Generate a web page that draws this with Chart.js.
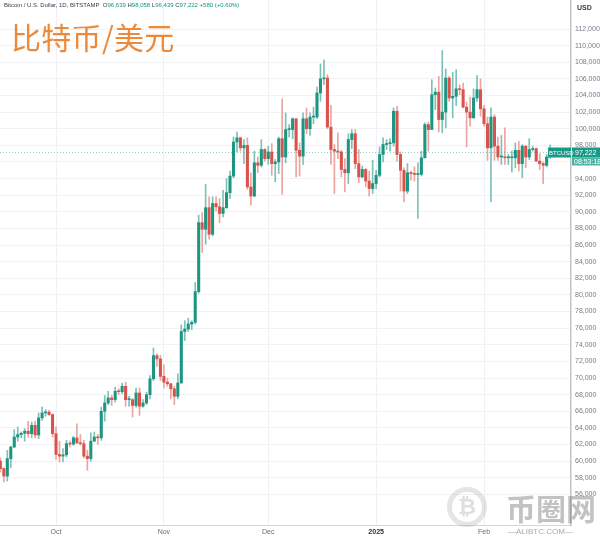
<!DOCTYPE html>
<html>
<head>
<meta charset="utf-8">
<script src="https://cdn.jsdelivr.net/npm/chart.js@4.4.1/dist/chart.umd.min.js"></script>
<style>
  html, body { margin: 0; padding: 0; background: #fff; }
  #wrap { position: relative; width: 600px; height: 539px; overflow: hidden; }
  #btc { display: block; }
  .hdr { position: absolute; left: 4px; top: 2px; font: 6px "Liberation Sans", Arial, sans-serif; color: #3a3d46; white-space: nowrap; }
  .hdr b { font-weight: normal; color: #089981; }
  .title { position: absolute; left: 11px; top: 21px; font: 30px "Noto Sans CJK SC", sans-serif; line-height: 1; color: #ec8a3c; letter-spacing: 0.3px; }
  .usd { position: absolute; left: 577px; top: 4px; font: bold 7px "Liberation Sans", Arial, sans-serif; color: #3a3d46; }
  .wm1 { position: absolute; left: 506px; top: 492px; font: bold 30px "Noto Sans CJK SC", sans-serif; line-height: 1; color: rgba(120,120,120,0.45); }
  .wm2 { position: absolute; left: 508px; top: 527px; font: 8px "Liberation Sans", Arial, sans-serif; color: rgba(110,110,110,0.6); }
  .wm3 { position: absolute; left: 447px; top: 487px; width: 40px; height: 40px; border-radius: 50%; border: 5px solid rgba(150,150,150,0.25); box-sizing: border-box; font: bold 22px "DejaVu Sans", sans-serif; color: rgba(150,150,150,0.3); text-align: center; line-height: 30px; }
</style>
</head>
<body>
<div id="wrap">
  <canvas id="btc" width="600" height="539"></canvas>
  <div class="hdr">Bitcoin / U.S. Dollar, 1D, BITSTAMP &nbsp;O<b>96,639</b> H<b>98,058</b> L<b>96,439</b> C<b>97,222</b> <b>+580 (+0.60%)</b></div>
  <div class="title">比特币/美元</div>
  <div class="usd">USD</div>
  <div class="wm3">₿</div>
  <div class="wm1">币圈网</div>
  <div class="wm2">—ALIBTC.COM—</div>
</div>
<script>
// daily candles, first one is 2024-09-15 (Bitstamp BTC/USD)
const firstDay = '2024-09-15';

const openP = [
  60000, 59100, 58200, 60300, 61700, 62900, 63200, 63350, 63600, 63300, 64300, 63150, 65200, 65800, 65900, 65600,
  63300, 60800, 60600, 60750, 62100, 62050, 62800, 62200, 62100, 60600, 60300, 62400, 62900, 62800, 66000, 67000,
  67600, 67400, 68400, 68350, 69000, 67400, 67400, 66700, 68200, 66600, 67000, 68000, 69900, 72700, 72300,
  70200, 69500, 69300, 68700, 67800, 69400, 75600, 75900, 76500, 76700, 80400, 88700, 87900, 90500, 87300,
  91000, 90600, 89800, 90500, 92300, 94300, 98400, 98900, 97700, 98000, 93000, 91900, 95900, 95600, 97500,
  96400, 97200, 95800, 96000, 98800, 96600, 99900, 99900, 101200, 97400, 96700, 101200, 100000, 101400, 101400,
  104300, 106000, 106100, 100200, 97500, 97300, 97200, 95100, 94700, 98700, 99400, 95800, 94200, 95100, 93700, 92800,
  93400, 94400, 96900, 98100, 98200, 98300, 102100, 96900, 95000, 92500, 94700, 94600, 94500, 94500, 96500, 100500,
  99900, 104100, 104400, 101100, 102000, 106100, 103700, 103900, 104800, 104700, 102600, 102000, 101300, 103700, 104700,
  102400, 100600, 97700, 101400, 97900, 96600, 96600, 96500, 96500, 96500, 97400, 95800, 97900, 96600, 97500, 97600,
  96100, 95800, 95600, 96639
];
const highP = [
  60400, 59200, 61300, 61800, 63800, 64100, 63500, 63900, 64800, 64700, 64800, 65800, 66500, 66200, 66100, 65700,
  64100, 62400, 61500, 62500, 62400, 63000, 64500, 63200, 62500, 61300, 63400, 63500, 63200, 66500, 67900, 68400,
  67900, 68900, 68700, 69400, 69500, 67800, 67500, 68800, 68800, 67400, 68300, 70300, 73600, 72900, 72700,
  71600, 70000, 69400, 69000, 70500, 76400, 76900, 77200, 76900, 81500, 89600, 89900, 93300, 91800,
  91800, 91800, 91600, 92600, 94000, 94900, 99000, 99600, 99000, 98700, 98900, 94700, 97300, 96600, 98700, 97600,
  97900, 98200, 96300, 99000, 103600, 101900, 100500, 101300, 101200, 98300, 101900, 102500, 101900, 102600,
  105000, 107800, 108300, 106500, 102800, 98100, 99500, 97400, 96400, 99400, 99900, 99900, 97500, 95500, 95200, 94900, 96200,
  95000, 97800, 98900, 98700, 98800, 102500, 102700, 97200, 95300, 95800, 94900, 95400, 95900, 97300, 100700,
  100800, 105900, 104900, 106300, 109400, 107200, 106300, 106800, 107100, 105300, 105500, 103200, 103800, 104800, 106400, 106000,
  102800, 101400, 102500, 101700, 99000, 99200, 100100, 96900, 97300, 98300, 98500, 98100, 98000, 98800, 97900,
  97700, 97000, 96000, 96900, 98058
];
const lowP = [
  58700, 57500, 57600, 59200, 61600, 62400, 62800, 62400, 62900, 62800, 62800, 62700, 64900, 65400, 65500, 62900,
  60200, 59900, 59900, 60500, 61700, 61900, 62100, 61900, 60400, 58900, 60000, 62400, 62000, 62500, 64800, 66800,
  66700, 67100, 68000, 68100, 66600, 66600, 65300, 66500, 65500, 66500, 66800, 67500, 69700, 71400, 69700,
  68800, 69000, 67500, 66800, 67500, 69400, 74500, 75600, 75800, 76500, 80200, 85100, 86100, 86700,
  87100, 90100, 88700, 89400, 90400, 91600, 94100, 97200, 97300, 95800, 92700, 90800, 91800, 94700, 95400, 96100,
  95700, 94400, 93600, 94600, 92100, 95900, 99000, 98800, 94200, 94300, 95700, 99400, 99200, 100600,
  101200, 103300, 105300, 100000, 95700, 92200, 96400, 94200, 92400, 93400, 97600, 95200, 93500, 94100, 93000, 91900, 92200,
  92800, 94200, 96000, 97500, 97300, 97900, 96100, 92500, 91200, 92200, 93800, 93700, 89200, 94300, 96500,
  97300, 99900, 102300, 99600, 99500, 100100, 103300, 101300, 102800, 104100, 102500, 97800, 100300, 101300, 103300, 101500,
  100300, 96200, 91200, 96200, 96200, 95700, 95700, 95700, 94800, 95300, 94900, 94100, 95300, 96300, 97300,
  96100, 95100, 93400, 95400, 96439
];
const closeP = [
  59100, 58200, 60300, 61700, 62900, 63200, 63350, 63600, 63300, 64300, 63150, 65200, 65800, 65900, 65600, 63300,
  60800, 60600, 60750, 62100, 62050, 62800, 62200, 62100, 60600, 60300, 62400, 62900, 62800, 66000, 67000, 67600,
  67400, 68400, 68350, 69000, 67400, 67400, 66700, 68200, 66600, 67000, 68000, 69900, 72700, 72300, 70200,
  69500, 69300, 68700, 67800, 69400, 75600, 75900, 76500, 76700, 80400, 88700, 87900, 90500, 87300,
  91000, 90600, 89800, 90500, 92300, 94300, 98400, 98900, 97700, 98000, 93000, 91900, 95900, 95600, 97500, 96400,
  97200, 95800, 96000, 98800, 96600, 99900, 99900, 101200, 97400, 96700, 101200, 100000, 101400, 101400,
  104300, 106000, 106100, 100200, 97500, 97300, 97200, 95100, 94700, 98700, 99400, 95800, 94200, 95100, 93700, 92800, 93400,
  94400, 96900, 98100, 98200, 98300, 102100, 96900, 95000, 92500, 94700, 94600, 94500, 94500, 96500, 100500,
  99900, 104100, 104400, 101100, 102000, 106100, 103700, 103900, 104800, 104700, 102600, 102000, 101300, 103700, 104700, 102400,
  100600, 97700, 101400, 97900, 96600, 96600, 96500, 96500, 96500, 97400, 95800, 97900, 96600, 97500, 97600,
  96100, 95800, 95600, 96600, 97222
];

// x axis month labels and the day offset (from Oct 1) they sit on
const monthLabels = ['Oct', 'Nov', 'Dec', '2025', 'Feb'];
const monthDays = [0, 31, 61, 92, 123];
// right axis tick labels
const priceTicks = [56000, 58000, 60000, 62000, 64000, 66000, 68000, 70000, 72000, 74000, 76000, 78000, 80000,
  82000, 84000, 86000, 88000, 90000, 92000, 94000, 96000, 98000, 100000, 102000, 104000, 106000, 108000, 110000, 112000];

const lastTime = '08:53:18';

const UP = '#1c9581', DOWN = '#d9534c';
const UP_WICK = '#7dc1b6', DOWN_WICK = '#eba4a0';

// day offsets relative to Oct 1
const d0 = (Date.UTC(2024, 8, 15) - Date.UTC(2024, 9, 1)) / 86400000;
let bodies = [], wicks = [], bodyCol = [], wickCol = [];
for (let i = 0; i < closeP.length; i++) {
  const up = closeP[i] >= openP[i];
  bodies.push({ x: d0 + i, y: [openP[i], closeP[i]] });
  wicks.push({ x: d0 + i, y: [lowP[i], highP[i]] });
  bodyCol.push(up ? UP : DOWN);
  wickCol.push(up ? UP_WICK : DOWN_WICK);
}

function monthOf(ctx) {
  if (!ctx || !ctx.tick) return '';
  return monthLabels[monthDays.indexOf(ctx.tick.value)];
}

//price line + labels for last close
const lastPricePlugin = {
  id: 'lastPrice',
  afterDraw(chart) {
    const ctx = chart.ctx, y = chart.scales.y, a = chart.chartArea;
    const last = closeP[closeP.length - 1];
    const py = Math.round(y.getPixelForValue(last)) + 0.5;
    ctx.save();
    ctx.strokeStyle = 'rgba(8,153,129,0.45)';
    ctx.setLineDash([1, 2]);
    ctx.lineWidth = 1;
    ctx.beginPath();
    ctx.moveTo(a.left, py);
    ctx.lineTo(a.right, py);
    ctx.stroke();
    ctx.setLineDash([]);
    ctx.fillStyle = '#1a9a86';
    ctx.fillRect(548, py - 5, a.right - 548, 10);
    ctx.fillRect(a.right + 1, py - 5, 600 - a.right, 10);
    ctx.fillStyle = '#4fb3a3';
    ctx.fillRect(a.right + 1, py + 5, 600 - a.right, 8);
    ctx.fillStyle = '#fff';
    ctx.textBaseline = 'middle';
    ctx.font = '6px "Liberation Sans", Arial, sans-serif';
    ctx.fillText('BTCUSD', 549, py + 0.5);
    ctx.font = '7px "Liberation Sans", Arial, sans-serif';
    ctx.fillText(last.toLocaleString('en-US'), a.right + 4, py + 0.5);
    ctx.fillText(lastTime, a.right + 3, py + 9.5);
    ctx.restore();
  }
};

new Chart(document.getElementById('btc'), {
  type: 'bar',
  data: {
    datasets: [{
      label: 'body',
      data: bodies,
      backgroundColor: bodyCol,
      barThickness: 2.4,
      minBarLength: 1,
      grouped: false
    }, {
      label: 'wick',
      data: wicks,
      backgroundColor: wickCol,
      barThickness: 1,
      grouped: false
    }]
  },
  options: {
    responsive: false,
    animation: false,
    layout: { padding: 0 },
    plugins: {
      legend: { display: false },
      tooltip: { enabled: false }
    },
    scales: {
      x: {
        type: 'linear',
        offset: false,
        min: -16.1,
        max: 148,
        afterBuildTicks: s => { s.ticks = monthDays.map(v => ({ value: v })); },
        afterFit: s => { s.height = 14; s.paddingLeft = 0; s.paddingRight = 0; },
        grid: { color: '#eef0f5', drawTicks: false, offset: false },
        border: { color: '#d6d6d6' },
        ticks: {
          padding: 3,
          autoSkip: false,
          maxRotation: 0,
          color: ctx => monthOf(ctx) === '2025' ? '#2a2e39' : '#6a6d78',
          font: ctx => ({ family: '"Liberation Sans", Arial, sans-serif', size: 7,
            weight: monthOf(ctx) === '2025' ? 'bold' : 'normal' }),
          callback: v => monthLabels[monthDays.indexOf(v)]
        }
      },
      y: {
        type: 'linear',
        position: 'right',
        min: 52313,
        max: 115490,
        afterBuildTicks: s => { s.ticks = priceTicks.map(v => ({ value: v })); },
        afterFit: s => { s.width = 29; s.paddingTop = 0; s.paddingBottom = 0; },
        grid: { color: '#f0f2f6', drawTicks: false },
        border: { color: '#c4c4c4', width: 1.5 },
        ticks: {
          padding: 4,
          autoSkip: false,
          color: '#787b86',
          font: { family: '"Liberation Sans", Arial, sans-serif', size: 7 },
          callback: v => v.toLocaleString('en-US')
        }
      }
    }
  },
  plugins: [lastPricePlugin]
});
</script>
</body>
</html>
